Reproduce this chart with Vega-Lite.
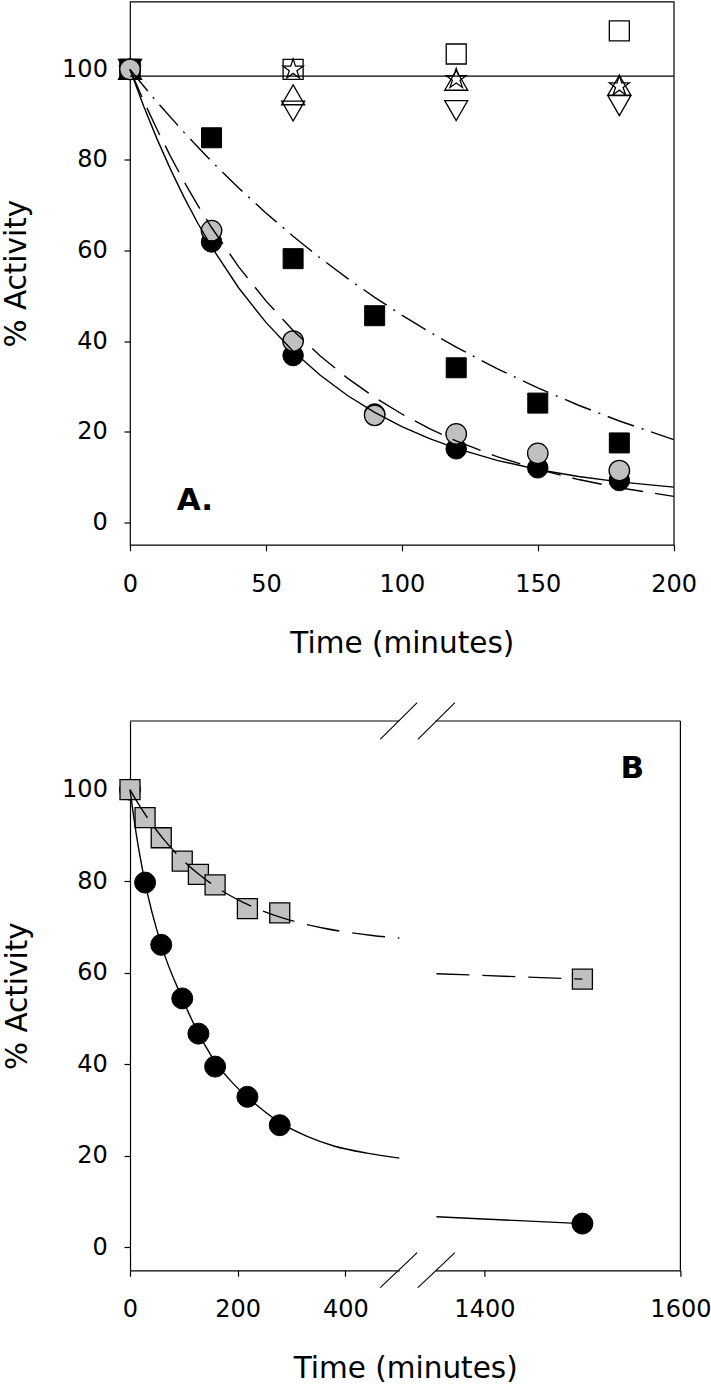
{
  "$schema": "https://vega.github.io/schema/vega-lite/v6.json",
  "background": "white",
  "padding": {"left": 0, "top": 0.5, "right": 0, "bottom": 8},
  "spacing": 43.5,
  "config": {
    "font": "DejaVu Sans",
    "view": {"stroke": "black", "strokeWidth": 1.2},
    "point": {"opacity": 1},
    "line": {"opacity": 1},
    "axis": {
      "domain": false, "grid": false, "tickColor": "black", "tickSize": 6, "tickWidth": 1.2,
      "domainColor": "black", "domainWidth": 1.2,
      "labelFont": "DejaVu Sans", "labelFontSize": 24, "labelColor": "black",
      "titleFont": "DejaVu Sans", "titleFontSize": 29.5, "titleFontWeight": "normal", "titleColor": "black",
      "labelFlush": false, "labelOverlap": false, "format": "d"
    },
    "axisX": {"labelPadding": 21.5, "titlePadding": 33},
    "axisY": {"labelPadding": 16.6, "titlePadding": 30}
  },
  "datasets": {
    "a_osq": [{"t":0,"y":100},{"t":60,"y":100},{"t":120,"y":103.4},{"t":180,"y":108.5}],
    "a_star": [{"t":0,"y":100},{"t":60,"y":100},{"t":120,"y":97.9},{"t":180,"y":96.3}],
    "a_tup": [{"t":0,"y":100},{"t":60,"y":94.4},{"t":120,"y":97.6},{"t":180,"y":96.5}],
    "a_tdn": [{"t":0,"y":100},{"t":60,"y":90.8},{"t":120,"y":90.9},{"t":180,"y":92.0}],
    "a_bsq": [{"t":0,"y":100},{"t":30,"y":84.9},{"t":60,"y":58.2},{"t":90,"y":45.6},{"t":120,"y":34.1},{"t":150,"y":26.3},{"t":180,"y":17.5}],
    "a_bci": [{"t":0,"y":100},{"t":30,"y":61.9},{"t":60,"y":36.8},{"t":90,"y":23.9},{"t":120,"y":16.2},{"t":150,"y":12.0},{"t":180,"y":9.2}],
    "a_gci": [{"t":0,"y":100},{"t":30,"y":64.4},{"t":60,"y":40.0},{"t":90,"y":23.6},{"t":120,"y":19.5},{"t":150,"y":15.2},{"t":180,"y":11.4}],
    "a_flat": [{"t":0,"y":98.5},{"t":200,"y":98.5}],
    "a_fit_b": [{"t":0,"y":100},{"t":5,"y":91.93},{"t":10,"y":84.55},{"t":15,"y":77.81},{"t":20,"y":71.62},{"t":25,"y":65.97},{"t":30,"y":60.79},{"t":40,"y":51.72},{"t":50,"y":44.13},{"t":60,"y":37.77},{"t":70,"y":32.44},{"t":80,"y":27.98},{"t":90,"y":24.25},{"t":100,"y":21.12},{"t":110,"y":18.5},{"t":120,"y":16.31},{"t":135,"y":13.66},{"t":150,"y":11.64},{"t":165,"y":10.09},{"t":180,"y":8.9},{"t":200,"y":7.74}],
    "a_fit_g": [{"t":0,"y":100},{"t":5,"y":93.09},{"t":10,"y":86.66},{"t":15,"y":80.67},{"t":20,"y":75.1},{"t":25,"y":69.91},{"t":30,"y":65.08},{"t":40,"y":56.4},{"t":50,"y":48.87},{"t":60,"y":42.35},{"t":70,"y":36.7},{"t":80,"y":31.8},{"t":90,"y":27.56},{"t":100,"y":23.89},{"t":110,"y":20.7},{"t":120,"y":17.94},{"t":135,"y":14.47},{"t":150,"y":11.67},{"t":165,"y":9.41},{"t":180,"y":7.6},{"t":200,"y":5.7}],
    "a_fit_s": [{"t":0,"y":100},{"t":5,"y":96.33},{"t":10,"y":92.77},{"t":20,"y":86.01},{"t":30,"y":79.7},{"t":40,"y":73.81},{"t":50,"y":68.3},{"t":60,"y":63.15},{"t":70,"y":58.34},{"t":80,"y":53.85},{"t":90,"y":49.65},{"t":100,"y":45.73},{"t":110,"y":42.06},{"t":120,"y":38.64},{"t":135,"y":33.93},{"t":150,"y":29.67},{"t":165,"y":25.82},{"t":180,"y":22.35},{"t":200,"y":18.24}],
    "a_label": [{"t":17.2,"y":2.6,"label":"A."}],
    "bl_bci": [{"t":0,"y":100},{"t":28,"y":79.7},{"t":58,"y":66.1},{"t":97,"y":54.4},{"t":127,"y":46.7},{"t":158,"y":39.5},{"t":218,"y":32.9},{"t":278,"y":26.7}],
    "bl_gsq": [{"t":0,"y":100},{"t":28,"y":93.9},{"t":58,"y":89.5},{"t":97,"y":84.4},{"t":127,"y":81.5},{"t":158,"y":79.2},{"t":218,"y":74.0},{"t":278,"y":73.1}],
    "bl_fit_c": [{"t":0,"y":100},{"t":12,"y":90},{"t":28,"y":79.7},{"t":58,"y":66.1},{"t":97,"y":54.4},{"t":127,"y":46.8},{"t":158,"y":40.6},{"t":190,"y":36.0},{"t":218,"y":32.8},{"t":250,"y":29.7},{"t":278,"y":27.3},{"t":330,"y":24.2},{"t":380,"y":22.1},{"t":440,"y":20.6},{"t":500,"y":19.5}],
    "bl_fit_s": [{"t":0,"y":100},{"t":10,"y":97.97},{"t":20,"y":96.07},{"t":30,"y":94.28},{"t":45,"y":91.79},{"t":60,"y":89.52},{"t":80,"y":86.8},{"t":100,"y":84.4},{"t":125,"y":81.78},{"t":150,"y":79.54},{"t":180,"y":77.26},{"t":210,"y":75.36},{"t":240,"y":73.79},{"t":280,"y":72.09},{"t":320,"y":70.77},{"t":360,"y":69.73},{"t":400,"y":68.92},{"t":450,"y":68.15},{"t":500,"y":67.58}],
    "bl_top": [{"t":0,"t2":500,"y":115}],
    "bl_break": [{"t":464.5,"t2":533.2,"y":111,"y2":119},{"t":464.5,"t2":533.2,"y":-8.8,"y2":-1.15}],
    "br_bci": [{"t":1500,"y":5.2}],
    "br_gsq": [{"t":1500,"y":58.6}],
    "br_fit_c": [{"t":1351,"y":6.7},{"t":1500,"y":5.2}],
    "br_fit_s": [{"t":1351,"y":59.8},{"t":1500,"y":58.6}],
    "br_top": [{"t":1350,"t2":1600,"y":115}],
    "br_right": [{"t":1600,"y":-5,"y2":115}],
    "br_break": [{"t":1332.1,"t2":1369.9,"y":111,"y2":119},{"t":1332.1,"t2":1369.9,"y":-8.8,"y2":-1.15}],
    "br_label": [{"t":1563,"y":102.5,"label":"B"}]
  },
  "vconcat": [
    {
      "width": 543.7,
      "height": 543.3,
      "encoding": {
        "x": {"field": "t", "type": "quantitative", "scale": {"domain": [0, 200], "nice": false, "zero": false}, "axis": {"values": [0, 50, 100, 150, 200], "title": "Time (minutes)"}},
        "y": {"field": "y", "type": "quantitative", "scale": {"domain": [-5, 115], "nice": false, "zero": false}, "axis": {"values": [0, 20, 40, 60, 80, 100], "title": "% Activity"}}
      },
      "layer": [
        {"data": {"name": "a_osq"}, "mark": {"type": "point", "shape": "square", "filled": false, "stroke": "black", "strokeWidth": 1.3, "size": 400}},
        {"data": {"name": "a_star"}, "mark": {"type": "point", "shape": "M0,-1L0.2245,-0.309L0.951,-0.309L0.363,0.118L0.588,0.809L0,0.382L-0.588,0.809L-0.363,0.118L-0.951,-0.309L-0.2245,-0.309Z", "filled": false, "stroke": "black", "strokeWidth": 1.3, "size": 441}},
        {"data": {"name": "a_tup"}, "mark": {"type": "point", "shape": "triangle-up", "filled": false, "stroke": "black", "strokeWidth": 1.3, "size": 529}},
        {"data": {"name": "a_tdn"}, "mark": {"type": "point", "shape": "triangle-down", "filled": false, "stroke": "black", "strokeWidth": 1.3, "size": 529}},
        {"data": {"name": "a_bsq"}, "mark": {"type": "point", "shape": "square", "filled": true, "fill": "black", "stroke": "black", "strokeWidth": 1, "size": 400}},
        {"data": {"name": "a_bci"}, "mark": {"type": "point", "shape": "circle", "filled": true, "fill": "black", "stroke": "black", "strokeWidth": 1, "size": 420}},
        {"data": {"name": "a_gci"}, "mark": {"type": "point", "shape": "circle", "filled": true, "fill": "#c0c0c0", "stroke": "black", "strokeWidth": 1.3, "size": 420}},
        {"data": {"name": "a_flat"}, "mark": {"type": "line", "stroke": "black", "strokeWidth": 1.3}},
        {"data": {"name": "a_fit_b"}, "mark": {"type": "line", "stroke": "black", "strokeWidth": 1.4}},
        {"data": {"name": "a_fit_g"}, "mark": {"type": "line", "stroke": "black", "strokeWidth": 1.4, "strokeDash": [30, 12]}},
        {"data": {"name": "a_fit_s"}, "mark": {"type": "line", "stroke": "black", "strokeWidth": 1.4, "strokeDash": [28, 8, 2, 8]}},
        {"data": {"name": "a_label"}, "mark": {"type": "text", "font": "DejaVu Sans", "fontSize": 31, "fontWeight": "bold", "align": "left", "baseline": "alphabetic", "color": "black"}, "encoding": {"text": {"field": "label", "type": "nominal"}}}
      ]
    },
    {
      "hconcat": [
        {
          "width": 269.3,
          "height": 549.3,
          "view": {"stroke": null},
          "encoding": {
            "x": {"field": "t", "type": "quantitative", "scale": {"domain": [0, 500], "nice": false, "zero": false}, "axis": {"values": [0, 200, 400], "title": "Time (minutes)", "titleX": 275.2, "domain": true}},
            "y": {"field": "y", "type": "quantitative", "scale": {"domain": [-5, 115], "nice": false, "zero": false}, "axis": {"values": [0, 20, 40, 60, 80, 100], "title": "% Activity", "domain": true, "titlePadding": 29}}
          },
          "layer": [
            {"data": {"name": "bl_bci"}, "mark": {"type": "point", "shape": "circle", "filled": true, "fill": "black", "stroke": "black", "strokeWidth": 1, "size": 441}},
            {"data": {"name": "bl_gsq"}, "mark": {"type": "point", "shape": "square", "filled": true, "fill": "#c0c0c0", "stroke": "black", "strokeWidth": 1.3, "size": 400}},
            {"data": {"name": "bl_fit_c"}, "mark": {"type": "line", "stroke": "black", "strokeWidth": 1.4, "interpolate": "monotone"}},
            {"data": {"name": "bl_fit_s"}, "mark": {"type": "line", "stroke": "black", "strokeWidth": 1.4, "strokeDash": [33, 13], "interpolate": "monotone"}},
            {"data": {"name": "bl_top"}, "mark": {"type": "rule", "stroke": "black", "strokeWidth": 1.2}, "encoding": {"x2": {"field": "t2"}}},
            {"data": {"name": "bl_break"}, "mark": {"type": "rule", "stroke": "black", "strokeWidth": 1.1, "clip": false}, "encoding": {"x2": {"field": "t2"}, "y2": {"field": "y2"}}}
          ]
        },
        {
          "width": 245,
          "height": 549.3,
          "view": {"stroke": null},
          "encoding": {
            "x": {"field": "t", "type": "quantitative", "scale": {"domain": [1350, 1600], "nice": false, "zero": false}, "axis": {"values": [1400, 1600], "title": null, "domain": true, "format": "d"}},
            "y": {"field": "y", "type": "quantitative", "scale": {"domain": [-5, 115], "nice": false, "zero": false}, "axis": null}
          },
          "layer": [
            {"data": {"name": "br_bci"}, "mark": {"type": "point", "shape": "circle", "filled": true, "fill": "black", "stroke": "black", "strokeWidth": 1, "size": 441}},
            {"data": {"name": "br_gsq"}, "mark": {"type": "point", "shape": "square", "filled": true, "fill": "#c0c0c0", "stroke": "black", "strokeWidth": 1.3, "size": 400}},
            {"data": {"name": "br_fit_c"}, "mark": {"type": "line", "stroke": "black", "strokeWidth": 1.4}},
            {"data": {"name": "br_fit_s"}, "mark": {"type": "line", "stroke": "black", "strokeWidth": 1.4, "strokeDash": [33, 13]}},
            {"data": {"name": "br_top"}, "mark": {"type": "rule", "stroke": "black", "strokeWidth": 1.2}, "encoding": {"x2": {"field": "t2"}}},
            {"data": {"name": "br_right"}, "mark": {"type": "rule", "stroke": "black", "strokeWidth": 1.2}, "encoding": {"y2": {"field": "y2"}}},
            {"data": {"name": "br_break"}, "mark": {"type": "rule", "stroke": "black", "strokeWidth": 1.1, "clip": false}, "encoding": {"x2": {"field": "t2"}, "y2": {"field": "y2"}}},
            {"data": {"name": "br_label"}, "mark": {"type": "text", "font": "DejaVu Sans", "fontSize": 31, "fontWeight": "bold", "align": "right", "baseline": "alphabetic", "color": "black"}, "encoding": {"text": {"field": "label", "type": "nominal"}}}
          ]
        }
      ],
      "spacing": 35.4,
      "bounds": "flush"
    }
  ]
}
